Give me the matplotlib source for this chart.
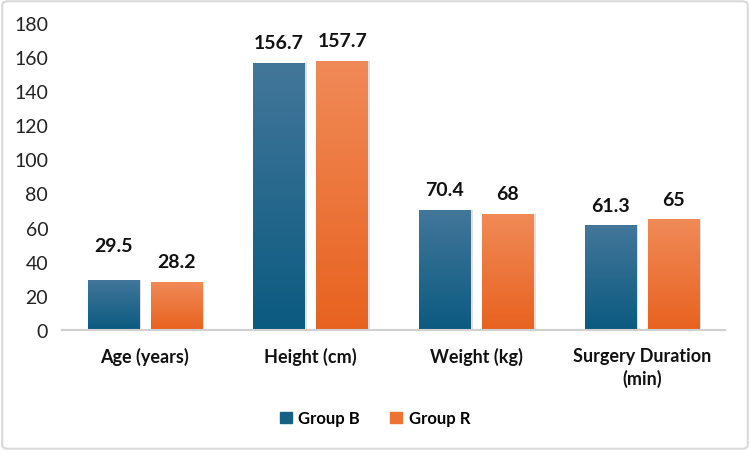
import numpy as np
import matplotlib
matplotlib.use("Agg")
import matplotlib.pyplot as plt
from matplotlib.colors import LinearSegmentedColormap
from matplotlib.patches import FancyBboxPatch

categories = ["Age (years)", "Height (cm)", "Weight (kg)", "Surgery Duration\n(min)"]
group_b = [29.5, 156.7, 70.4, 61.3]
group_r = [28.2, 157.7, 68, 65]
series_names = ["Group B", "Group R"]
y_ticks = [0, 20, 40, 60, 80, 100, 120, 140, 160, 180]

# gradient colours (top, bottom) for each series
grad_colors = [("#43779a", "#0b5a80"), ("#f08a58", "#e8621f")]
legend_colors = ["#185f84", "#ec7333"]

plt.rcParams['font.family'] = ['Lato', 'DejaVu Sans']

fig = plt.figure(figsize=(7.5, 4.52), dpi=100)
ax = fig.add_axes([0.0827, 0.2677, 0.884, 0.6795])

x = np.arange(len(categories))
width = 0.31
offsets = [-0.19, 0.19]
grad = np.linspace(0, 1, 256).reshape(-1, 1)

for s, vals in enumerate([group_b, group_r]):
    cmap = LinearSegmentedColormap.from_list("g%d" % s, [grad_colors[s][1], grad_colors[s][0]])
    bars = ax.bar(x + offsets[s], vals, width, color=legend_colors[s], label=series_names[s], zorder=2)
    for b in bars:
        bx, by = b.get_x(), b.get_y()
        bw, bh = b.get_width(), b.get_height()
        # soft shadow
        ax.bar(bx + bw / 2 + 0.012, bh, bw, bottom=by, color="#000000", alpha=0.12, zorder=1)
        im = ax.imshow(grad, cmap=cmap, aspect="auto", origin="lower",
                       extent=[bx, bx + bw, by, by + bh], zorder=3)
        im.set_clip_path(b)

# data labels: offset in pixels above bar top (29.5 was nudged up in original)
label_offsets = [[34, 20, 20, 20], [20, 20, 20, 20]]
for s, vals in enumerate([group_b, group_r]):
    for i, v in enumerate(vals):
        ax.annotate(f"{v:g}", (x[i] + offsets[s], v), xytext=(0, label_offsets[s][i] * 0.72),
                    textcoords="offset points", ha="center", va="center",
                    fontsize=14, fontweight="bold", color="#111111")

ax.set_xlim(-0.5, len(categories) - 0.5)
ax.set_ylim(0, 180)
ax.set_yticks(y_ticks)
ax.set_yticklabels([str(t) for t in y_ticks], fontsize=14, color="#222222")
ax.set_xticks(x)
ax.set_xticklabels(categories, fontsize=13, fontweight="bold", color="#111111", linespacing=1.35)
ax.tick_params(axis="both", length=0)
ax.tick_params(axis="x", pad=12)
ax.tick_params(axis="y", pad=10)
for sp in ["top", "right", "left"]:
    ax.spines[sp].set_visible(False)
ax.spines["bottom"].set_color("#d0d0d0")
ax.spines["bottom"].set_linewidth(1.5)
ax.spines["bottom"].set_zorder(4)

handles = [plt.Rectangle((0, 0), 1, 1, color=c) for c in legend_colors]
fig.legend(handles, series_names, loc="center", bbox_to_anchor=(0.5, 0.072), ncol=2,
           frameon=False, prop={"weight": "bold", "size": 12},
           handlelength=0.7, handleheight=0.7, handletextpad=0.4, columnspacing=1.8)

border = FancyBboxPatch((0.003, 0.005), 0.994, 0.99, boxstyle="round,pad=0,rounding_size=0.008",
                        transform=fig.transFigure, fill=False, edgecolor="#d9d9d9", linewidth=1.5)
fig.patches.append(border)

fig.savefig("out.png", dpi=100)
